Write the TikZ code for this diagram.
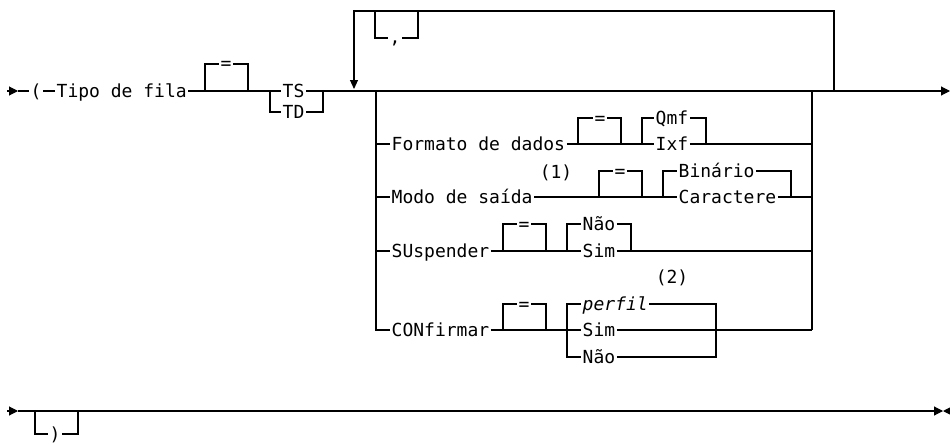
\documentclass[tikz,border=0pt]{standalone}
\usepackage{fontspec}
\usepackage{tikz}
\usetikzlibrary{arrows.meta}
\newfontfamily\railfont{DejaVu Sans Mono}

\begin{document}
\begin{tikzpicture}[x=1pt, y=-1pt, >={Triangle[length=9pt, width=9pt]}]

  % --- Styles ---
  \tikzset{
    rail/.style={line width=1.1pt},
    railarrow/.style={rail, ->},
    word/.style={inner xsep=1.5pt, inner ysep=0pt, text height=12pt, text depth=0pt,
                 font=\railfont\fontsize{18}{22}\selectfont, anchor=west},
    sym/.style={word, anchor=center},
    note/.style={word, anchor=center}
  }

  \useasboundingbox (0,0) rectangle (950,444);

  % --- First line: ( Tipo de fila = TS/TD ---
  \node[word] (paren) at (29,91) {(};
  \node[word] (tipo) at (55,91) {Tipo de fila};
  \node[sym] (eq1) at (226,64) {=};
  \node[word] (ts) at (281,91) {TS};
  \node[word] (td) at (281,112) {TD};

  \draw[railarrow] (7,91) -- (18,91);
  \draw[rail] (18,91) -- (paren.west);
  \draw[rail] (paren.east) -- (tipo.west);
  \draw[rail] (tipo.east) -- (ts.west);
  \draw[rail] (205,91) |- (eq1.west);
  \draw[rail] (eq1.east) -| (248,91);
  \draw[rail] (270,91) |- (td.west);
  \draw[rail] (td.east) -| (323,91);
  \draw[railarrow] (ts.east) -- (950,91);

  % --- Repeat loop with comma ---
  \node[sym] (comma) at (395,38) {,};
  \draw[railarrow, >={Triangle[length=9pt, width=8pt]}] (834,91) -- (834,11) -- (354,11) -- (354,89);
  \draw[rail] (375,11) |- (comma.west);
  \draw[rail] (comma.east) -| (418,11);

  % --- Options ---
  \node[word] (formato) at (390,144) {Formato de dados};
  \node[sym] (eq2) at (600,118) {=};
  \node[word] (qmf) at (654,118) {Qmf};
  \node[word] (ixf) at (654,144) {Ixf};

  \node[word] (modo) at (390,197) {Modo de saída};
  \node[note] (n1) at (556,172) {(1)};
  \node[sym] (eq3) at (620,171) {=};
  \node[word] (binario) at (677,171) {Binário};
  \node[word] (caractere) at (677,197) {Caractere};

  \node[word] (suspender) at (390,251) {SUspender};
  \node[sym] (eq4) at (524,224) {=};
  \node[word] (nao1) at (581,224) {Não};
  \node[word] (sim1) at (581,251) {Sim};

  \node[word] (confirmar) at (390,330) {CONfirmar};
  \node[note] (n2) at (672,277) {(2)};
  \node[sym] (eq5) at (524,304) {=};
  \node[word, font=\railfont\itshape\fontsize{18}{22}\selectfont] (perfil) at (581,304) {perfil};
  \node[word] (sim2) at (581,330) {Sim};
  \node[word] (nao2) at (581,357) {Não};

  \draw[rail] (376,91) |- (confirmar.west);
  \draw[rail] (812,91) -- (812,330);

  \draw[rail] (376,144) -- (formato.west);
  \draw[rail] (formato.east) -- (ixf.west);
  \draw[rail] (578,144) |- (eq2.west);
  \draw[rail] (eq2.east) -| (621,144);
  \draw[rail] (642,144) |- (qmf.west);
  \draw[rail] (qmf.east) -| (706,144);
  \draw[rail] (ixf.east) -- (812,144);

  \draw[rail] (376,197) -- (modo.west);
  \draw[rail] (modo.east) -- (caractere.west);
  \draw[rail] (599,197) |- (eq3.west);
  \draw[rail] (eq3.east) -| (642,197);
  \draw[rail] (663,197) |- (binario.west);
  \draw[rail] (binario.east) -| (791,197);
  \draw[rail] (caractere.east) -- (812,197);

  \draw[rail] (376,251) -- (suspender.west);
  \draw[rail] (suspender.east) -- (sim1.west);
  \draw[rail] (503,251) |- (eq4.west);
  \draw[rail] (eq4.east) -| (546,251);
  \draw[rail] (567,251) |- (nao1.west);
  \draw[rail] (nao1.east) -| (631,251);
  \draw[rail] (sim1.east) -- (812,251);

  \draw[rail] (confirmar.east) -- (sim2.west);
  \draw[rail] (503,330) |- (eq5.west);
  \draw[rail] (eq5.east) -| (546,330);
  \draw[rail] (567,330) |- (perfil.west);
  \draw[rail] (567,330) |- (nao2.west);
  \draw[rail] (perfil.east) -| (716,330);
  \draw[rail] (nao2.east) -| (716,330);
  \draw[rail] (sim2.east) -- (812,330);

  % --- Second line: ) ---
  \node[sym] (close) at (55,434) {)};
  \draw[railarrow] (7,411) -- (18,411);
  \draw[railarrow] (18,411) -- (943,411);
  \draw[railarrow] (955,411) -- (943,411);
  \draw[rail] (35,411) |- (close.west);
  \draw[rail] (close.east) -| (78,411);

\end{tikzpicture}
\end{document}
